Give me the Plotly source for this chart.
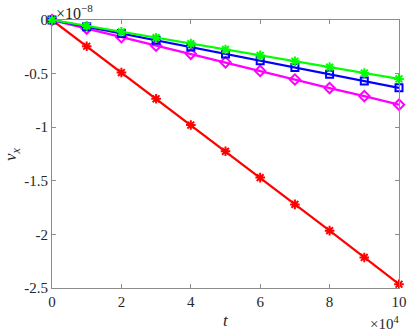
import plotly.graph_objects as go

# t in units of 1e4, v_x in units of 1e-8
t = [0, 1, 2, 3, 4, 5, 6, 7, 8, 9, 10]
v_red = [0, -0.245, -0.49, -0.735, -0.98, -1.225, -1.47, -1.72, -1.965, -2.215, -2.465]
v_magenta = [0, -0.08, -0.16, -0.24, -0.315, -0.395, -0.475, -0.555, -0.635, -0.71, -0.79]
v_blue = [0, -0.063, -0.127, -0.19, -0.253, -0.317, -0.38, -0.443, -0.507, -0.57, -0.633]
v_green = [0, -0.055, -0.11, -0.165, -0.22, -0.275, -0.33, -0.385, -0.44, -0.495, -0.55]

x_ticks = [0, 2, 4, 6, 8, 10]
y_ticks = [0, -0.5, -1, -1.5, -2, -2.5]
y_ticktext = ["0", "-0.5", "-1", "-1.5", "-2", "-2.5"]

FONT = "'Liberation Serif', 'DejaVu Serif', serif"
AX = "#8c8c8c"
TXT = "#262626"

series = [
    (v_red, "#ff0000", "asterisk-open", 8),
    (v_magenta, "#ff00ff", "diamond-open", 8),
    (v_blue, "#0000ff", "square-open", 7),
    (v_green, "#00ff00", "asterisk-open", 8),
]

fig = go.Figure()
for ys, col, sym, sz in series:
    fig.add_trace(
        go.Scatter(
            x=t,
            y=ys,
            mode="lines+markers",
            line=dict(color=col, width=2.2),
            marker=dict(symbol=sym, size=sz, color=col, line=dict(color=col, width=2)),
            showlegend=False,
            cliponaxis=False,
        )
    )

axis_common = dict(
    showgrid=False,
    zeroline=False,
    showline=True,
    linecolor=AX,
    linewidth=1,
    mirror="ticks",
    ticks="inside",
    ticklen=4,
    tickcolor=AX,
    tickfont=dict(family=FONT, size=15, color=TXT),
)

fig.update_layout(
    width=415,
    height=333,
    margin=dict(l=52, r=8, t=20, b=45),
    paper_bgcolor="white",
    plot_bgcolor="white",
    font=dict(family=FONT, size=15, color=TXT),
    xaxis=dict(range=[0, 10], tickvals=x_ticks, ticktext=[str(v) for v in x_ticks], **axis_common),
    yaxis=dict(range=[-2.5, 0], tickvals=y_ticks, ticktext=y_ticktext, **axis_common),
    annotations=[
        dict(text="<i>t</i>", x=0.5, y=-0.08, xref="paper", yref="paper", showarrow=False,
             xanchor="center", yanchor="top", font=dict(family=FONT, size=17, color=TXT)),
        dict(text="<i>v<sub>x</sub></i>", x=-0.115, y=0.5, xref="paper", yref="paper", showarrow=False,
             textangle=-90, xanchor="center", yanchor="middle", font=dict(family=FONT, size=17, color=TXT)),
        dict(text="×10<sup>−8</sup>", x=0.0, y=1.0, xref="paper", yref="paper", showarrow=False,
             xanchor="left", yanchor="bottom", yshift=-4, xshift=2, font=dict(family=FONT, size=16, color=TXT)),
        dict(text="×10<sup>4</sup>", x=1.0, y=-0.09, xref="paper", yref="paper", showarrow=False,
             xanchor="right", yanchor="top", xshift=2, font=dict(family=FONT, size=15, color=TXT)),
    ],
)

fig.write_html("out.html", config={"displayModeBar": False},
               post_script="document.body.style.margin='0';")
